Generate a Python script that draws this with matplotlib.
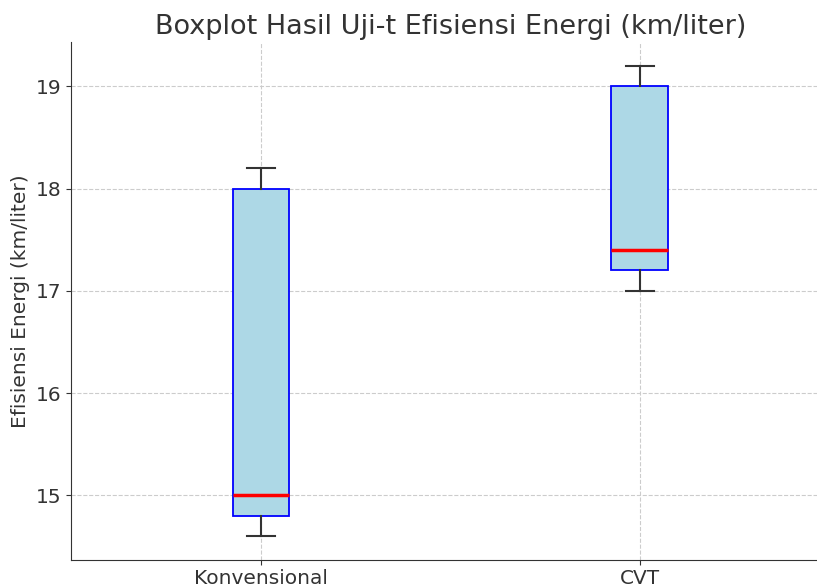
import matplotlib.pyplot as plt

categories = ['Konvensional', 'CVT']
konvensional = [14.6, 14.8, 15.0, 18.0, 18.2]
cvt = [17.0, 17.2, 17.4, 19.0, 19.2]

plt.rcParams['font.family'] = ['DejaVu Sans']
plt.rcParams['text.color'] = '#333333'
plt.rcParams['axes.labelcolor'] = '#333333'
plt.rcParams['xtick.color'] = '#333333'
plt.rcParams['ytick.color'] = '#333333'

fig, ax = plt.subplots(figsize=(8.17, 5.88), dpi=100)
fig.subplots_adjust(left=0.0875, right=1.015, top=0.928, bottom=0.048)

ax.boxplot([konvensional, cvt], tick_labels=categories, patch_artist=True, widths=0.15,
           boxprops=dict(facecolor='lightblue', edgecolor='blue', linewidth=1.3),
           medianprops=dict(color='red', linewidth=2.5),
           whiskerprops=dict(color='#333333', linewidth=1.5),
           capprops=dict(color='#333333', linewidth=1.5))

ax.set_title('Boxplot Hasil Uji-t Efisiensi Energi (km/liter)', fontsize=19.5)
ax.set_ylabel('Efisiensi Energi (km/liter)', fontsize=14.5)
ax.tick_params(labelsize=14.5)
ax.grid(True, linestyle='--', color='#cccccc', linewidth=0.8)
ax.set_axisbelow(True)
for s in ['top', 'right']:
    ax.spines[s].set_visible(False)
for s in ['left', 'bottom']:
    ax.spines[s].set_color('#333333')

fig.savefig('out.png')
